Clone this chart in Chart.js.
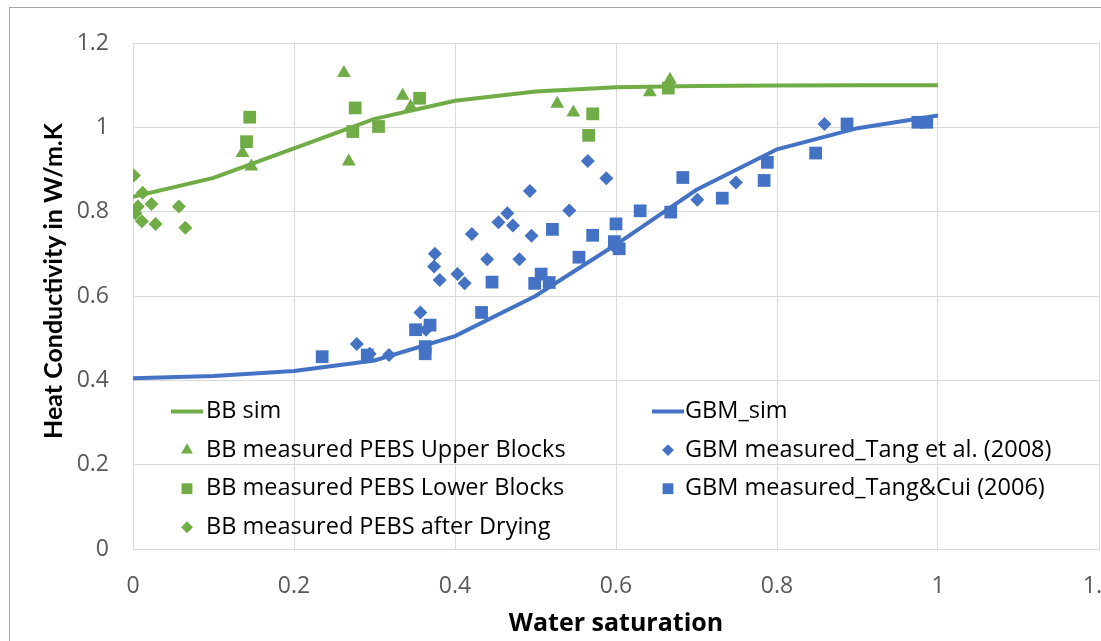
<!DOCTYPE html>
<html>
<head>
<meta charset="utf-8">
<title>Heat conductivity vs water saturation</title>
<script src="https://cdn.jsdelivr.net/npm/chart.js@4.4.1/dist/chart.umd.min.js"></script>
<style>
  html, body { margin: 0; padding: 0; background: #fff; }
</style>
</head>
<body>
<canvas id="heatChart" width="1101" height="641"></canvas>
<script>
// simulated curves
const simSat = [0, 0.1, 0.2, 0.3, 0.4, 0.5, 0.6, 0.7, 0.8, 0.9, 1.0];
const bbSim  = [0.835, 0.88, 0.95, 1.02, 1.063, 1.085, 1.095, 1.098, 1.099, 1.1, 1.1];
const gbmSim = [0.405, 0.41, 0.422, 0.447, 0.505, 0.6, 0.722, 0.852, 0.948, 0.998, 1.028];

// BB measurements (PEBS)
const upperSat = [0.136, 0.147, 0.262, 0.268, 0.335, 0.345, 0.527, 0.547, 0.642, 0.667];
const upperK   = [0.939, 0.907, 1.129, 0.919, 1.075, 1.049, 1.056, 1.035, 1.083, 1.113];

const lowerSat = [0.141, 0.145, 0.273, 0.276, 0.305, 0.356, 0.566, 0.571, 0.665];
const lowerK   = [0.966, 1.024, 0.990, 1.046, 1.002, 1.069, 0.981, 1.032, 1.093];

const dryingSat = [0.001, 0.003, 0.006, 0.011, 0.012, 0.023, 0.028, 0.057, 0.065];
const dryingK   = [0.886, 0.796, 0.812, 0.777, 0.845, 0.818, 0.771, 0.812, 0.762];

// GBM measurements
const tang08Sat = [0.278, 0.294, 0.318, 0.357, 0.364, 0.374, 0.375, 0.381, 0.403, 0.412, 0.421, 0.44, 0.454,
                   0.465, 0.472, 0.48, 0.493, 0.495, 0.542, 0.565, 0.588, 0.598, 0.701, 0.749, 0.859];
const tang08K   = [0.486, 0.463, 0.46, 0.561, 0.52, 0.67, 0.7, 0.638, 0.652, 0.63, 0.747, 0.687, 0.775,
                   0.796, 0.767, 0.687, 0.849, 0.743, 0.803, 0.92, 0.879, 0.717, 0.828, 0.869, 1.008];

const tangCuiSat = [0.235, 0.291, 0.351, 0.363, 0.363, 0.369, 0.433, 0.446, 0.499, 0.507, 0.517, 0.521, 0.554, 0.571,
                    0.598, 0.6, 0.604, 0.63, 0.668, 0.683, 0.732, 0.784, 0.788, 0.848, 0.887, 0.975, 0.986];
const tangCuiK   = [0.456, 0.46, 0.52, 0.48, 0.463, 0.531, 0.561, 0.633, 0.63, 0.652, 0.632, 0.758, 0.692, 0.744,
                    0.729, 0.771, 0.712, 0.802, 0.799, 0.881, 0.832, 0.874, 0.917, 0.939, 1.008, 1.012, 1.012];

const seriesNames = [
  'BB sim',
  'BB measured PEBS Upper Blocks',
  'BB measured PEBS Lower Blocks',
  'BB measured PEBS after Drying',
  'GBM_sim',
  'GBM measured_Tang et al. (2008)',
  'GBM measured_Tang&Cui (2006)'
];

const xTitle = 'Water saturation';
const yTitle = 'Heat Conductivity in W/m.K';

const GREEN = '#70ad47';
const BLUE = '#4472c4';
const GRID = '#d9d9d9';
const FONT = '"Open Sans", Lato, sans-serif';

function pairs(xs, ys) {
  return xs.map((x, i) => ({ x: x, y: ys[i] }));
}

function lineSet(label, xs, ys, color) {
  return {
    label: label,
    data: pairs(xs, ys),
    showLine: true,
    borderColor: color,
    backgroundColor: color,
    borderWidth: 4,
    pointRadius: 0,
    tension: 0
  };
}

function markerSet(label, xs, ys, color, style, radius) {
  return {
    label: label,
    data: pairs(xs, ys),
    showLine: false,
    pointStyle: style,
    pointRadius: radius,
    pointHoverRadius: radius,
    pointBackgroundColor: color,
    pointBorderColor: color,
    pointBorderWidth: 0,
    borderColor: color,
    backgroundColor: color
  };
}

// outer chart frame
const framePlugin = {
  id: 'frame',
  beforeDraw(chart) {
    const ctx = chart.ctx;
    ctx.save();
    ctx.fillStyle = '#fff';
    ctx.fillRect(0, 0, chart.width, chart.height);
    ctx.strokeStyle = '#a6a6a6';
    ctx.lineWidth = 1;
    ctx.strokeRect(9.5, 7.5, chart.width + 20, chart.height + 20);
    ctx.restore();
  }
};

// vertical axis title, drawn a little above the middle of the plot
const yTitlePlugin = {
  id: 'yTitle',
  afterDraw(chart) {
    const ctx = chart.ctx;
    ctx.save();
    ctx.translate(54, 281);
    ctx.rotate(-Math.PI / 2);
    ctx.font = 'bold 25px Lato, sans-serif';
    ctx.fillStyle = '#000';
    ctx.textAlign = 'center';
    ctx.textBaseline = 'middle';
    ctx.fillText(yTitle, 0, 0);
    ctx.restore();
  }
};

// two-column legend inside the plot area
const legendPlugin = {
  id: 'insideLegend',
  afterDraw(chart) {
    const ctx = chart.ctx;
    const columns = [[0, 1, 2, 3], [4, 5, 6]];
    const markX = [187, 668];
    const textX = [206, 685];
    const rowY = 411.5;
    const rowGap = 38.6;
    ctx.save();
    ctx.font = '23.5px ' + FONT;
    ctx.textBaseline = 'middle';
    columns.forEach((col, ci) => {
      col.forEach((idx, ri) => {
        const ds = chart.data.datasets[idx];
        const y = rowY + ri * rowGap;
        const x = markX[ci];
        ctx.fillStyle = ds.borderColor;
        ctx.strokeStyle = ds.borderColor;
        if (ds.showLine) {
          ctx.lineWidth = 4;
          ctx.beginPath();
          ctx.moveTo(x - 16, y);
          ctx.lineTo(x + 16, y);
          ctx.stroke();
        } else {
          const r = ds.pointRadius * 0.85;
          ctx.beginPath();
          if (ds.pointStyle === 'triangle') {
            ctx.moveTo(x, y - r);
            ctx.lineTo(x + r * 0.866, y + r / 2);
            ctx.lineTo(x - r * 0.866, y + r / 2);
          } else if (ds.pointStyle === 'rect') {
            const s = r * Math.SQRT1_2;
            ctx.rect(x - s, y - s, 2 * s, 2 * s);
          } else {
            ctx.moveTo(x, y - r);
            ctx.lineTo(x + r, y);
            ctx.lineTo(x, y + r);
            ctx.lineTo(x - r, y);
          }
          ctx.closePath();
          ctx.fill();
        }
        ctx.fillStyle = '#000';
        ctx.fillText(ds.label, textX[ci], y);
      });
    });
    ctx.restore();
  }
};

const tickLabel = v => String(+Number(v).toFixed(1));

const datasets = [
  lineSet(seriesNames[0], simSat, bbSim, GREEN),
  markerSet(seriesNames[1], upperSat, upperK, GREEN, 'triangle', 8),
  markerSet(seriesNames[2], lowerSat, lowerK, GREEN, 'rect', 9),
  markerSet(seriesNames[3], dryingSat, dryingK, GREEN, 'rectRot', 7),
  lineSet(seriesNames[4], simSat, gbmSim, BLUE),
  markerSet(seriesNames[5], tang08Sat, tang08K, BLUE, 'rectRot', 7),
  markerSet(seriesNames[6], tangCuiSat, tangCuiK, BLUE, 'rect', 9)
];
// later series are painted over earlier ones
datasets.forEach((ds, i) => { ds.order = datasets.length - i; });

new Chart(document.getElementById('heatChart'), {
  type: 'scatter',
  data: { datasets: datasets },
  options: {
    responsive: false,
    animation: false,
    layout: { autoPadding: false, padding: { top: 43, right: 2, left: 0, bottom: 0 } },
    plugins: {
      legend: { display: false },
      tooltip: { enabled: false }
    },
    scales: {
      x: {
        type: 'linear',
        min: 0,
        max: 1.2,
        ticks: {
          stepSize: 0.2,
          color: '#595959',
          font: { family: FONT, size: 23 },
          padding: 24,
          callback: tickLabel
        },
        grid: { color: GRID, drawTicks: false },
        border: { color: GRID },
        title: {
          display: true,
          text: xTitle,
          color: '#000',
          font: { family: FONT, size: 25, weight: 'bold' },
          padding: { top: 0, bottom: 2 }
        },
        afterFit(scale) {
          scale.height = 92;
          scale.paddingLeft = 0;
          scale.paddingRight = 0;
        }
      },
      y: {
        type: 'linear',
        min: 0,
        max: 1.2,
        ticks: {
          stepSize: 0.2,
          color: '#595959',
          font: { family: FONT, size: 23 },
          padding: 24,
          callback: tickLabel
        },
        grid: { color: GRID, drawTicks: false },
        border: { color: GRID },
        afterFit(scale) {
          scale.width = 133;
          scale.paddingTop = 0;
          scale.paddingBottom = 0;
        }
      }
    }
  },
  plugins: [framePlugin, yTitlePlugin, legendPlugin]
});
</script>
</body>
</html>
